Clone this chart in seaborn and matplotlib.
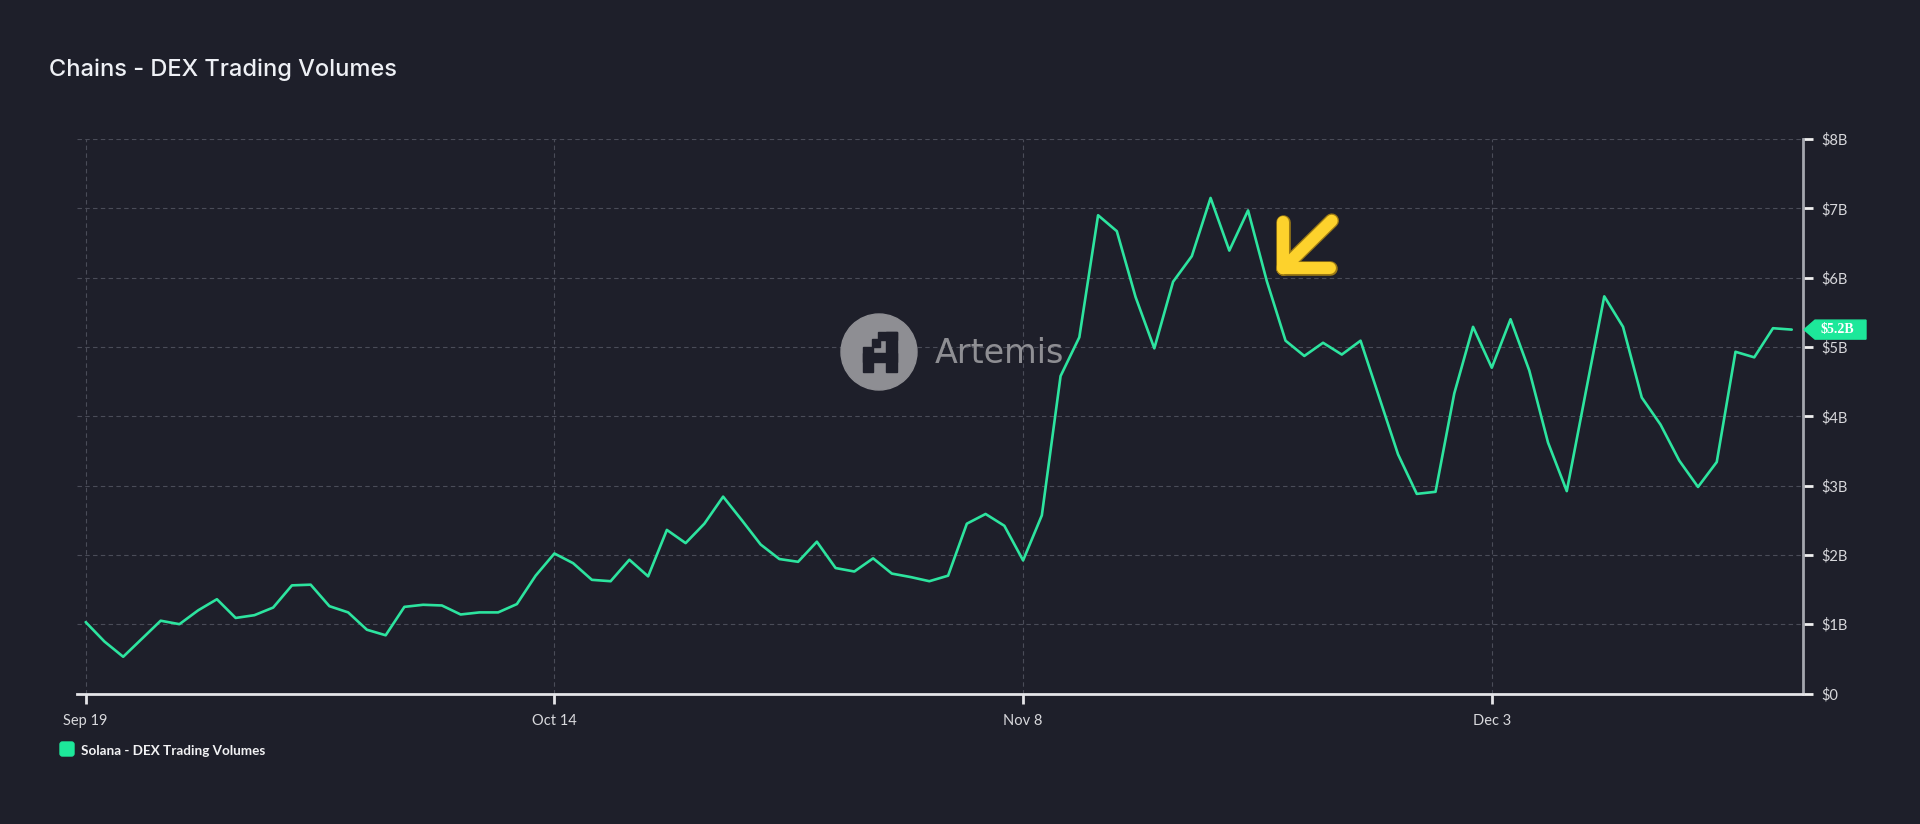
import matplotlib
matplotlib.use("Agg")
import matplotlib.pyplot as plt
import matplotlib.transforms as mtransforms
from matplotlib.patches import Polygon, Circle, Rectangle, FancyBboxPatch
from matplotlib.lines import Line2D
import seaborn as sns
import pandas as pd

# ---------------- data ----------------
start_date = "2024-09-19"
volumes_b = [
    1.03, 0.75, 0.53, 0.79, 1.05, 1.00, 1.20, 1.36, 1.09, 1.13,
    1.24, 1.56, 1.57, 1.26, 1.17, 0.92, 0.84, 1.25, 1.28, 1.27,
    1.14, 1.17, 1.17, 1.29, 1.70, 2.02, 1.88, 1.64, 1.62, 1.93,
    1.69, 2.36, 2.17, 2.45, 2.84, 2.50, 2.15, 1.94, 1.90, 2.19,
    1.81, 1.76, 1.95, 1.73, 1.68, 1.62, 1.70, 2.45, 2.59, 2.42,
    1.92, 2.57, 4.58, 5.14, 6.90, 6.67, 5.72, 4.98, 5.94, 6.31,
    7.15, 6.39, 6.97, 5.95, 5.09, 4.87, 5.06, 4.89, 5.09, 4.27,
    3.45, 2.88, 2.91, 4.33, 5.29, 4.70, 5.40, 4.66, 3.62, 2.92,
    4.33, 5.73, 5.29, 4.27, 3.88, 3.36, 2.98, 3.34, 4.93, 4.85,
    5.27, 5.25,
]
x_tick_dates = ["2024-09-19", "2024-10-14", "2024-11-08", "2024-12-03"]
x_tick_labels = ["Sep 19", "Oct 14", "Nov 8", "Dec 3"]
y_ticks = [0, 1, 2, 3, 4, 5, 6, 7, 8]
y_tick_labels = ["$0", "$1B", "$2B", "$3B", "$4B", "$5B", "$6B", "$7B", "$8B"]
series_name = "Solana - DEX Trading Volumes"
title = "Chains - DEX Trading Volumes"
last_label = "$5.2B"

# ---------------- style ----------------
BG = "#1e1f2a"
LINE = "#2de49f"
TAG = "#1de89a"
GRID = "#4a4c58"
W, H = 1920, 824

sns.set_theme(style="dark")
plt.rcParams["font.family"] = ["Lato", "DejaVu Sans"]

df = pd.DataFrame({
    "date": pd.date_range(start_date, periods=len(volumes_b), freq="D"),
    "volume": volumes_b,
})

fig = plt.figure(figsize=(W / 100, H / 100), dpi=100, facecolor=BG)
ax_l, ax_r, ax_b, ax_t = 76.7, 1803.0, 693.5, 139.0
ax = fig.add_axes([ax_l / W, 1 - ax_b / H, (ax_r - ax_l) / W, (ax_b - ax_t) / H])
ax.set_facecolor(BG)

sns.lineplot(data=df, x="date", y="volume", ax=ax, color=LINE, linewidth=1.9, zorder=3)

t0 = pd.Timestamp(start_date)
ax.set_xlim(t0 - pd.Timedelta(hours=11.5), t0 + pd.Timedelta(days=91.6))
ax.set_ylim(0, 8)

ax.yaxis.tick_right()
ax.set_yticks(y_ticks)
ax.set_yticklabels(y_tick_labels)
ax.set_xticks(pd.to_datetime(x_tick_dates))
ax.set_xticklabels(x_tick_labels)
ax.set_xlabel("")
ax.set_ylabel("")

ax.grid(True, color=GRID, linestyle=(0, (4, 3)), linewidth=0.8, zorder=0)
for s in ["top", "left"]:
    ax.spines[s].set_visible(False)
ax.spines["bottom"].set_color("#e4e4e8")
ax.spines["bottom"].set_linewidth(2)
ax.spines["right"].set_color("#a4a6ae")
ax.spines["right"].set_linewidth(2)
ax.tick_params(axis="x", direction="out", length=7, width=2, color="#e4e4e8",
               labelcolor="#d8d8dc", labelsize=10.5, pad=8, bottom=True)
ax.tick_params(axis="y", direction="out", length=7, width=2, color="#f0f0f0",
               labelcolor="#d8d8dc", labelsize=10.5, pad=6, right=True, left=False)

# ---------------- watermark ----------------
pix = mtransforms.IdentityTransform()
def P(x, y):
    return (x, H - y)

ax.add_patch(Circle(P(879, 352), 38, transform=pix, color="#8e8e93", zorder=1, clip_on=False))
# pixel "A" logo
for (x0, y0, x1, y1) in [
    (128, 140, 160, 215), (198, 95, 232, 215), (128, 158, 232, 185),
    (175, 95, 232, 120), (155, 118, 180, 142),
]:
    fx0, fy0 = 820 + x0 / 3, 300 + y1 / 3
    ax.add_patch(Rectangle(P(fx0, fy0), (x1 - x0) / 3, (y1 - y0) / 3, transform=pix,
                           color=BG, zorder=1.5, clip_on=False))
ax.text(*P(935, 363), "Artemis", transform=pix, fontsize=24, color="#8e8e93",
        family=["DejaVu Sans"], ha="left", va="baseline", zorder=1)

# ---------------- last-value tag ----------------
btr = mtransforms.blended_transform_factory(pix, ax.transData)
v = volumes_b[-1]
dy = 9.5 * 8 / (ax_b - ax_t)
ax.add_patch(Polygon([(1804, v), (1815, v + dy), (1866, v + dy), (1866, v - dy), (1815, v - dy)],
                     closed=True, transform=btr, color=TAG, clip_on=False, zorder=5))
ax.text(1837, v, last_label, transform=btr, ha="center", va="center", color="white",
        fontsize=10, fontweight="bold", family=["Liberation Serif", "DejaVu Serif"],
        clip_on=False, zorder=6)

# ---------------- title ----------------
fig.text(49 / W, 1 - 76 / H, title, fontsize=17, color="#eef0f5",
         family=["Inter", "DejaVu Sans"], fontweight="medium", ha="left", va="baseline")

# ---------------- legend ----------------
fig.patches.append(FancyBboxPatch(P(60, 756), 14, 14, boxstyle="round,pad=0,rounding_size=2.5",
                                  transform=pix, color=TAG, figure=fig))
fig.text(80.7 / W, 1 - 751 / H, series_name, fontsize=9.7, fontweight="bold", color="#f2f2f4",
         ha="left", va="center")

# ---------------- yellow arrow ----------------
corner = (1283.3, 268.3)
ends = [(1283.3, 221.7), (1330.0, 268.3), (1331.7, 220.7)]
for lw, col, z in [(10.5, "#9c7a14", 10), (8.6, "#fdd22c", 11)]:
    for e in ends:
        fig.add_artist(Line2D([corner[0], e[0]], [H - corner[1], H - e[1]], transform=pix,
                              color=col, linewidth=lw, solid_capstyle="round",
                              solid_joinstyle="round", zorder=z))

fig.savefig("out.png", dpi=100, facecolor=BG)
